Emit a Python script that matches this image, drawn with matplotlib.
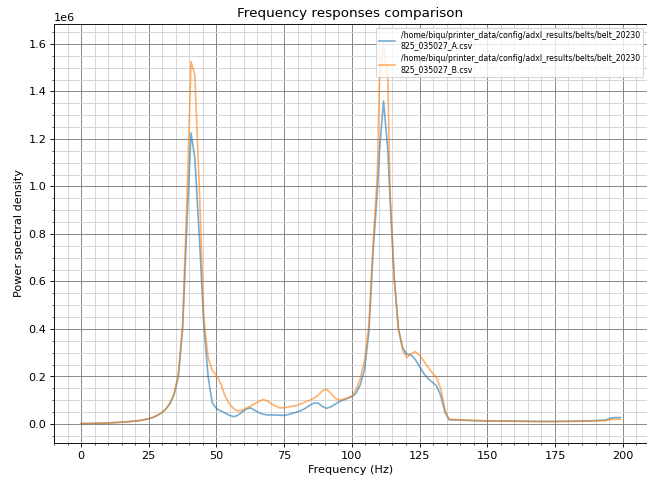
import textwrap
import numpy as np
import matplotlib
matplotlib.use('Agg')
import matplotlib.pyplot as plt
import matplotlib.ticker
import matplotlib.font_manager

lognames = ['/home/biqu/printer_data/config/adxl_results/belts/belt_20230825_035027_A.csv',
            '/home/biqu/printer_data/config/adxl_results/belts/belt_20230825_035027_B.csv']

# frequency bins (Hz)
freqs = [0.0, 3.1, 6.3, 9.4, 12.5, 15.6, 18.8, 21.9, 25.0, 26.6, 28.1, 29.7,
         31.3, 32.8, 34.4, 35.9, 37.5, 39.1, 40.6, 42.0, 43.8, 45.3, 46.9, 48.4,
         50.0, 51.6, 53.1, 54.7, 56.3, 57.8, 59.4, 60.9, 62.5, 64.1, 65.6, 67.2,
         68.8, 70.3, 71.9, 73.4, 75.0, 76.6, 78.1, 79.7, 81.3, 82.8, 84.4, 85.9,
         87.5, 89.1, 90.6, 92.2, 93.8, 95.3, 96.9, 98.4, 100.0, 101.6, 103.1, 104.7,
         106.3, 107.8, 109.4, 110.2, 111.7, 113.3, 114.1, 115.6, 117.2, 118.8, 120.3,
         121.9, 123.4, 125.0, 126.6, 128.1, 129.7, 131.3, 132.8, 134.4, 135.9, 140.6,
         145.3, 150.0, 156.3, 162.5, 168.8, 175.0, 181.3, 187.5, 190.6, 193.8, 195.3,
         196.9, 199.2]

# power spectral density, units of 1e6
psd_a = [0.002, 0.002, 0.003, 0.004, 0.006, 0.008, 0.011, 0.015, 0.022, 0.028, 0.036, 0.047,
         0.063, 0.085, 0.125, 0.200, 0.400, 0.850, 1.225, 1.120, 0.760, 0.420, 0.200, 0.090,
         0.065, 0.055, 0.047, 0.037, 0.031, 0.036, 0.050, 0.062, 0.068, 0.058, 0.048, 0.041,
         0.038, 0.038, 0.038, 0.037, 0.036, 0.040, 0.045, 0.050, 0.057, 0.066, 0.078, 0.088,
         0.088, 0.074, 0.066, 0.072, 0.083, 0.094, 0.101, 0.108, 0.115, 0.130, 0.165, 0.230,
         0.390, 0.720, 0.980, 1.150, 1.360, 1.150, 0.950, 0.620, 0.400, 0.320, 0.295,
         0.290, 0.272, 0.242, 0.212, 0.192, 0.176, 0.160, 0.120, 0.050, 0.018, 0.016,
         0.014, 0.013, 0.013, 0.012, 0.011, 0.011, 0.012, 0.013, 0.015, 0.017, 0.024,
         0.027, 0.027]

psd_b = [0.002, 0.002, 0.003, 0.004, 0.006, 0.008, 0.011, 0.015, 0.022, 0.028, 0.036, 0.047,
         0.063, 0.087, 0.130, 0.210, 0.420, 0.950, 1.525, 1.470, 0.950, 0.450, 0.280, 0.225,
         0.205, 0.170, 0.120, 0.085, 0.065, 0.055, 0.058, 0.066, 0.075, 0.085, 0.095, 0.103,
         0.097, 0.085, 0.075, 0.068, 0.068, 0.072, 0.075, 0.078, 0.085, 0.093, 0.100, 0.108,
         0.120, 0.140, 0.146, 0.130, 0.110, 0.100, 0.105, 0.110, 0.118, 0.145, 0.190, 0.270,
         0.420, 0.750, 1.050, 1.450, 1.600, 1.450, 0.980, 0.620, 0.400, 0.310, 0.280,
         0.295, 0.305, 0.290, 0.265, 0.240, 0.215, 0.195, 0.150, 0.060, 0.020, 0.017,
         0.015, 0.013, 0.012, 0.011, 0.010, 0.010, 0.011, 0.012, 0.013, 0.014, 0.018,
         0.020, 0.020]

def plot_compare_frequency(datas, lognames):
    fig = plt.figure(figsize=(8, 5.96), dpi=80.875)
    ax = fig.add_axes([0.0835, 0.0809, 0.9165, 0.8693])
    ax.set_title('Frequency responses comparison')
    ax.set_xlabel('Frequency (Hz)')
    ax.set_ylabel('Power spectral density')

    for psd, logname in zip(datas, lognames):
        ax.plot(freqs, np.array(psd) * 1e6, label="\n".join(textwrap.wrap(logname, 60)), alpha=0.6)

    ax.set_xlim(-10, 209)
    ax.set_ylim(-0.08e6, 1.684e6)
    ax.xaxis.set_minor_locator(matplotlib.ticker.AutoMinorLocator())
    ax.yaxis.set_minor_locator(matplotlib.ticker.AutoMinorLocator())
    ax.grid(which='major', color='grey')
    ax.grid(which='minor', color='lightgrey')
    fontP = matplotlib.font_manager.FontProperties()
    fontP.set_size('x-small')
    ax.legend(loc='upper right', prop=fontP)
    return fig

if __name__ == "__main__":
    fig = plot_compare_frequency([psd_a, psd_b], lognames)
    fig.savefig('out.png', dpi=80.875)
